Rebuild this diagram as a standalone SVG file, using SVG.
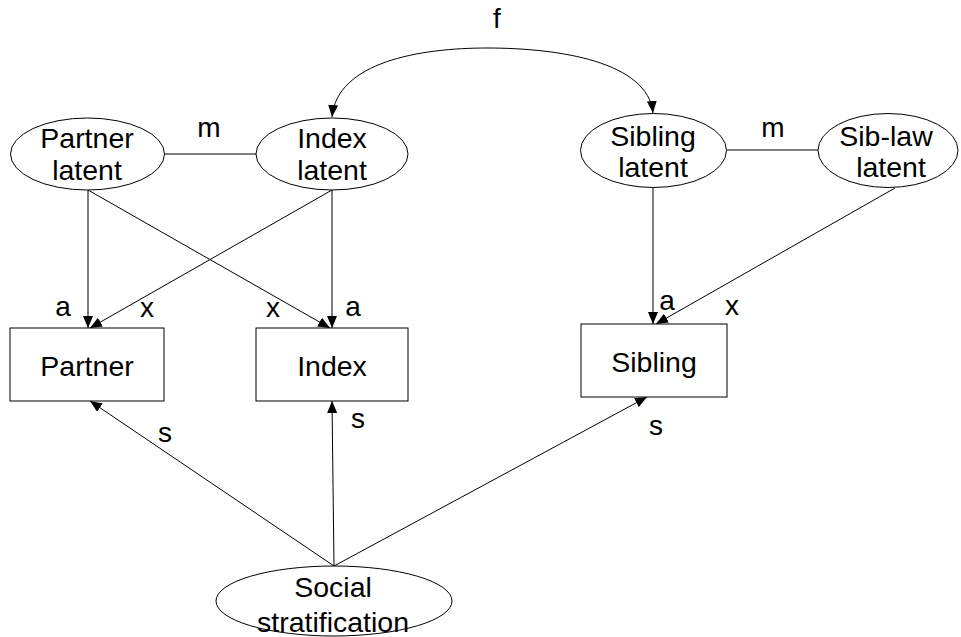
<svg xmlns="http://www.w3.org/2000/svg" width="961" height="637" viewBox="0 0 961 637">
<defs>
<style>
.shape{fill:#fff;stroke:#000;stroke-width:1}
.t{font-family:"Liberation Sans",Arial,sans-serif;font-size:28.5px;fill:#000;text-anchor:middle}
.l{font-family:"Liberation Sans",Arial,sans-serif;font-size:28px;fill:#000;text-anchor:middle}
.c{fill:none;stroke:#000;stroke-width:1}
</style>
<marker id="ah" viewBox="0 0 12 10" refX="12" refY="5" markerWidth="12" markerHeight="10" markerUnits="userSpaceOnUse" orient="auto-start-reverse">
<path d="M0,0 L12,5 L0,10 Z" fill="#000"/>
</marker>
</defs>
<rect width="961" height="637" fill="#fff"/>
<g id="connectors">
<line class="c" x1="165" y1="154" x2="256" y2="154"/>
<line class="c" x1="727" y1="150" x2="818" y2="150"/>
<path class="c" d="M332,117 C337,62 420,48 487,48 C560,48 648,62 653,113" marker-start="url(#ah)" marker-end="url(#ah)"/>
<line class="c" x1="88" y1="190" x2="88" y2="328" marker-end="url(#ah)"/>
<line class="c" x1="332" y1="190" x2="90" y2="328" marker-end="url(#ah)"/>
<line class="c" x1="88" y1="190" x2="330" y2="328" marker-end="url(#ah)"/>
<line class="c" x1="332" y1="190" x2="332" y2="328" marker-end="url(#ah)"/>
<line class="c" x1="653" y1="188" x2="653" y2="324" marker-end="url(#ah)"/>
<line class="c" x1="895" y1="188" x2="656" y2="324" marker-end="url(#ah)"/>
<line class="c" x1="334" y1="566" x2="90" y2="401" marker-end="url(#ah)"/>
<line class="c" x1="334" y1="566" x2="332" y2="401" marker-end="url(#ah)"/>
<line class="c" x1="334" y1="566" x2="647" y2="397" marker-end="url(#ah)"/>
<text class="l" x="497" y="28">f</text>
<text class="l" x="209" y="137">m</text>
<text class="l" x="773" y="137">m</text>
<text class="l" x="63" y="316">a</text>
<text class="l" x="147" y="317">x</text>
<text class="l" x="273" y="317">x</text>
<text class="l" x="353" y="316">a</text>
<text class="l" x="667" y="310">a</text>
<text class="l" x="732" y="315">x</text>
<text class="l" x="165" y="442">s</text>
<text class="l" x="358" y="428">s</text>
<text class="l" x="656" y="435">s</text>
</g>
<g id="partner-latent">
<ellipse class="shape" cx="87.5" cy="154" rx="77" ry="36"/>
<text class="t" x="87" y="148">Partner</text>
<text class="t" x="87" y="180">latent</text>
</g>
<g id="index-latent">
<ellipse class="shape" cx="332" cy="154" rx="76" ry="36"/>
<text class="t" x="332" y="148">Index</text>
<text class="t" x="332" y="180">latent</text>
</g>
<g id="sibling-latent">
<ellipse class="shape" cx="653.5" cy="150.5" rx="73" ry="37"/>
<text class="t" x="653" y="146">Sibling</text>
<text class="t" x="653" y="177">latent</text>
</g>
<g id="siblaw-latent">
<ellipse class="shape" cx="888" cy="150.5" rx="70" ry="37"/>
<text class="t" x="886" y="146">Sib-law</text>
<text class="t" x="891" y="177">latent</text>
</g>
<g id="partner">
<rect class="shape" x="10" y="328" width="154" height="73"/>
<text class="t" x="87" y="376">Partner</text>
</g>
<g id="index">
<rect class="shape" x="256" y="328" width="152" height="73"/>
<text class="t" x="332" y="376">Index</text>
</g>
<g id="sibling">
<rect class="shape" x="581" y="324" width="146" height="73"/>
<text class="t" x="654" y="372">Sibling</text>
</g>
<g id="social-stratification">
<ellipse class="shape" cx="334" cy="601" rx="118" ry="35"/>
<text class="t" x="333" y="597">Social</text>
<text class="t" x="333" y="632">stratification</text>
</g>
</svg>
